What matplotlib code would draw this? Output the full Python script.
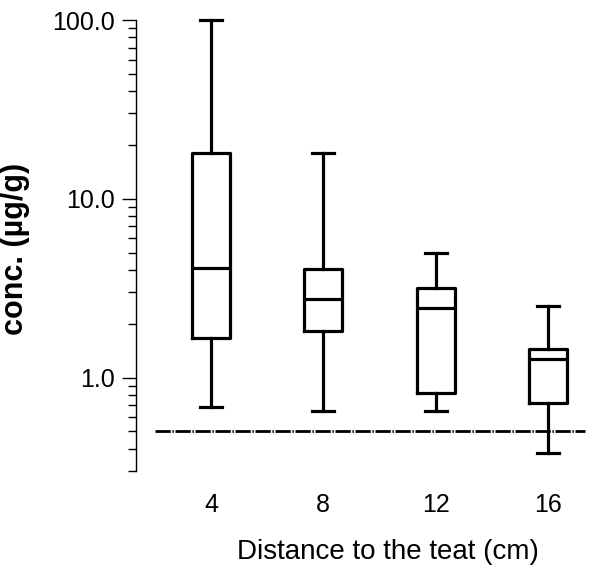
import matplotlib
matplotlib.use("Agg")
import matplotlib.pyplot as plt
from matplotlib.ticker import FixedLocator, FormatStrFormatter, LogLocator, NullFormatter

plt.rcParams['font.family'] = ['Liberation Sans', 'DejaVu Sans']

# values
distance = [4, 8, 12, 16]                 # cm to the teat
whis_hi = [100.0, 18.1, 5.0, 2.5]
q3 = [18.1, 4.05, 3.15, 1.45]
median = [4.1, 2.75, 2.45, 1.27]
q1 = [1.67, 1.83, 0.82, 0.72]
whis_lo = [0.68, 0.65, 0.65, 0.38]
detection_limit = 0.5
limit_span = [2.0, 17.3]
y_ticks = [1.0, 10.0, 100.0]

fig = plt.figure(figsize=(6, 5.77), dpi=100)
ax = fig.add_axes([0.2267, 0.1837, 0.7733, 0.7816])

stats = []
for i in range(len(distance)):
    stats.append(dict(med=median[i], q1=q1[i], q3=q3[i],
                      whislo=whis_lo[i], whishi=whis_hi[i]))

lw = 2.3
parts = ax.bxp(stats, positions=distance, widths=1.35, capwidths=0.78,
               showfliers=False, manage_ticks=False,
               boxprops=dict(color='black', linewidth=lw),
               whiskerprops=dict(color='black', linewidth=lw),
               capprops=dict(color='black', linewidth=lw),
               medianprops=dict(color='black', linewidth=lw))
for k in parts:
    for art in parts[k]:
        art.set_clip_on(False)

ax.hlines(detection_limit, limit_span[0], limit_span[1], colors='black',
          linestyles=(0, (5.5, 0.6, 0.5, 0.6)), linewidth=2.0)

ax.set_yscale('log')
ax.set_ylim(0.3, 100)
ax.set_xlim(1.33, 17.85)
ax.yaxis.set_major_locator(FixedLocator(y_ticks))
ax.yaxis.set_major_formatter(FormatStrFormatter('%.1f'))
ax.yaxis.set_minor_locator(LogLocator(base=10, subs=range(2, 10)))
ax.yaxis.set_minor_formatter(NullFormatter())

ax.set_xticks(distance)
ax.set_xticklabels([str(d) for d in distance])

for s in ['top', 'right', 'bottom']:
    ax.spines[s].set_visible(False)
ax.spines['left'].set_linewidth(1.0)

ax.tick_params(axis='y', which='major', length=10, width=1, labelsize=18, pad=5, color='black')
ax.tick_params(axis='y', which='minor', length=6, width=1, color='black')
ax.tick_params(axis='x', length=0, labelsize=18, pad=16)

fig.text(388 / 600, 1 - 552 / 577, 'Distance to the teat (cm)', fontsize=20,
         ha='center', va='center')
fig.text(23 / 600, 1 - 249 / 577, 'conc. (µg/g)', fontsize=22, fontweight='bold',
         rotation=90, rotation_mode='anchor', ha='center', va='baseline')

fig.savefig('out.png', dpi=100, facecolor='white')
